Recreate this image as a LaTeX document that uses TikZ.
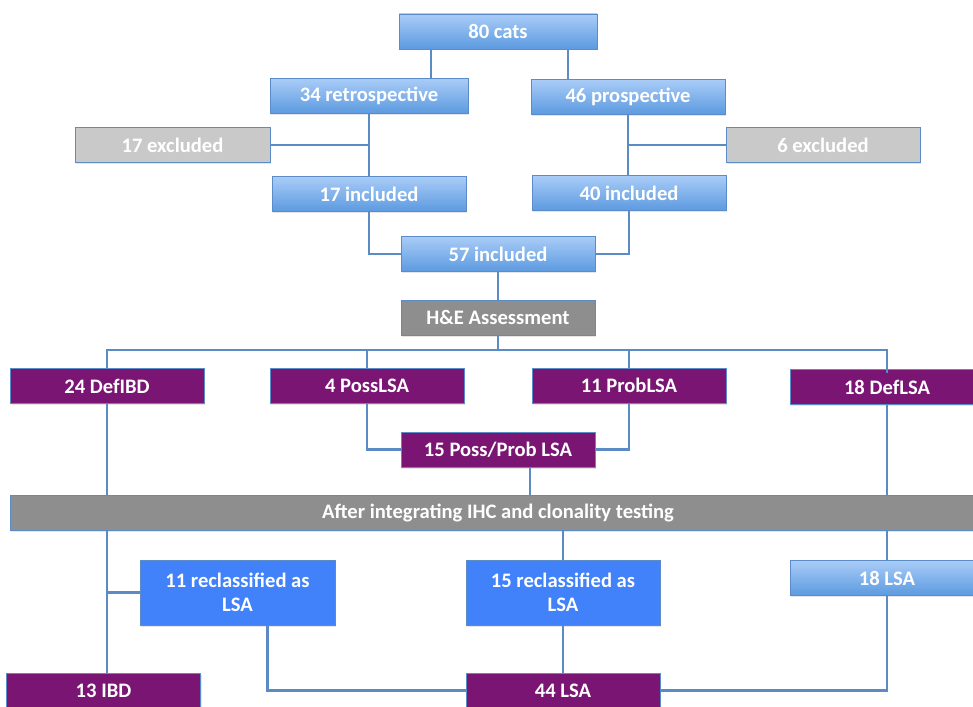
\documentclass[tikz,border=0pt]{standalone}
\usepackage{fontspec}
\setmainfont{Carlito}
\usetikzlibrary{shadows}
\definecolor{bluetop}{HTML}{A9CCF7}
\definecolor{bluebot}{HTML}{5C9AE0}
\definecolor{bordc}{HTML}{5B8CC8}
\definecolor{lgrey}{HTML}{C9C9C9}
\definecolor{dgrey}{HTML}{8E8E8E}
\definecolor{purp}{HTML}{7A1573}
\definecolor{bblue}{HTML}{4181FA}
\definecolor{linec}{HTML}{5B8BC4}
\newcommand\boxfont{\fontsize{20.6}{24}\selectfont\bfseries}
\tikzset{
  basebox/.style={rectangle, minimum width=194pt, minimum height=35pt, inner sep=0pt,
    text=white, font=\boxfont, draw=bordc, line width=0.8pt, align=center,
    drop shadow={opacity=0.2, shadow xshift=1pt, shadow yshift=-1.5pt}},
  bluebox/.style={basebox, top color=bluetop, bottom color=bluebot},
  lgreybox/.style={basebox, fill=lgrey},
  dgreybox/.style={basebox, fill=dgrey},
  purpbox/.style={basebox, fill=purp},
  bbluebox/.style={basebox, fill=bblue, minimum height=65pt},
  conn/.style={draw=linec, line width=2.2pt}
}
\begin{document}
\begin{tikzpicture}[x=1pt,y=-1pt]
\clip (0,0) rectangle (973,706);
\fill[white] (0,0) rectangle (973,706);
% nodes
\node[bluebox, minimum width=198pt] (cats) at (498,31.5) {80 cats};
\node[bluebox, minimum width=198pt] (retro) at (369,96) {34 retrospective};
\node[bluebox] (pros) at (628,97) {46 prospective};
\node[lgreybox, minimum width=195pt] (exc17) at (172.5,145) {17 excluded};
\node[lgreybox] (exc6) at (823,145) {6 excluded};
\node[bluebox] (inc17) at (369,194) {17 included};
\node[bluebox] (inc40) at (629,193) {40 included};
\node[bluebox] (inc57) at (498,254) {57 included};
\node[dgreybox] (he) at (498,317.5) {H\&E Assessment};
\node[purpbox] (defibd) at (107,386) {24 DefIBD};
\node[purpbox] (posslsa) at (367,385.5) {4 PossLSA};
\node[purpbox] (problsa) at (629,385.5) {11 ProbLSA};
\node[purpbox] (deflsa) at (887,387) {18 DefLSA};
\node[purpbox] (pp) at (498,449.5) {15 Poss/Prob LSA};
\node[dgreybox, minimum width=976pt] (bar) at (498,512.5) {After integrating IHC and clonality testing};
\node[bbluebox, minimum width=195pt] (rec11) at (237.5,592.5) {11 reclassified as\\LSA};
\node[bbluebox] (rec15) at (563,592.5) {15 reclassified as\\LSA};
\node[bluebox] (lsa18) at (887,578) {18 LSA};
\node[purpbox] (ibd13) at (103.5,690.5) {13 IBD};
\node[purpbox] (lsa44) at (563,690.5) {44 LSA};
% connectors
\coordinate (bus) at (0,350);
\begin{scope}[conn]
\draw ([xshift=-67pt]cats.south) -- ([xshift=62pt]retro.north);
\draw ([xshift=70pt]cats.south) -- ([xshift=-60pt]pros.north);
\draw (retro.south) -- (inc17.north);
\draw (exc17.east) -- (exc17.east -| retro.south);
\draw (pros.south) -- (pros.south |- inc40.north);
\draw (exc6.west) -- (exc6.west -| pros.south);
\draw (inc17.south) |- (inc57.west);
\draw (inc40.south) |- (inc57.east);
\draw (inc57.south) -- (he.north);
\draw (defibd.north) -- (defibd.north |- bus) -- (deflsa.north |- bus) -- ([yshift=-4pt]deflsa.north);
\draw (he.south) -- (he.south |- bus);
\draw (posslsa.north) -- (posslsa.north |- bus);
\draw (problsa.north) -- (problsa.north |- bus);
\draw (posslsa.south) |- (pp.west);
\draw (problsa.south) |- (pp.east);
\draw (defibd.south) -- (defibd.south |- bar.north);
\draw ([xshift=32pt]pp.south) -- ([xshift=32pt]pp.south |- bar.north);
\draw (deflsa.south) -- (deflsa.south |- bar.north);
\draw (defibd.south |- bar.south) -- (defibd.south |- ibd13.north);
\draw (rec11.west) -- (rec11.west -| defibd.south);
\draw (rec15.north |- bar.south) -- (rec15.north);
\draw (lsa18.north |- bar.south) -- (lsa18.north);
\draw ([xshift=30pt]rec11.south) |- (lsa44.west);
\draw (rec15.south) -- (lsa44.north);
\draw (lsa18.south) |- (lsa44.east);
\end{scope}
\end{tikzpicture}
\end{document}
